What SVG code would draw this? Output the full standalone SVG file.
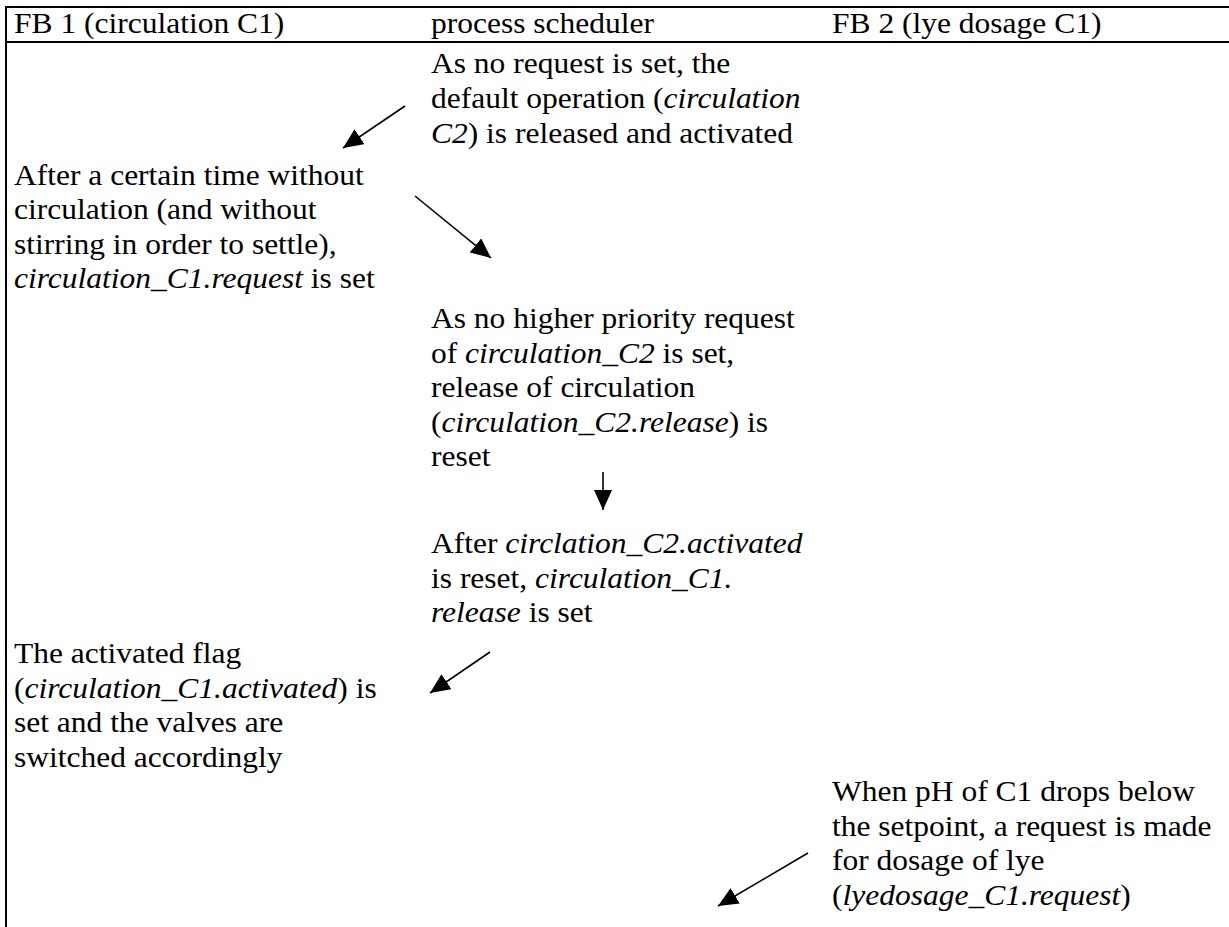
<svg xmlns="http://www.w3.org/2000/svg" width="1229" height="927" viewBox="0 0 1229 927">
  <style>
    text { font-size: 30px; fill: #000; }
    .i { font-style: italic; }
    .rule { stroke: #000; stroke-width: 2; fill: none; }
    .flow { stroke: #000; stroke-width: 1.6; fill: none; marker-end: url(#head); }
  </style>
  <defs>
    <marker id="head" viewBox="0 0 20 18" refX="20" refY="9" markerWidth="20" markerHeight="18" markerUnits="userSpaceOnUse" orient="auto">
      <path d="M0,0 L20,9 L0,18 z" fill="#000"/>
    </marker>
  </defs>
  <rect width="1229" height="927" fill="#fff"/>

  <!-- table frame -->
  <g id="table">
    <line class="rule" x1="5" y1="7" x2="1229" y2="7"/>
    <line class="rule" x1="5" y1="42" x2="1229" y2="42"/>
    <line class="rule" x1="6" y1="6" x2="6" y2="927"/>
  </g>

  <g font-family="'Liberation Serif', 'DejaVu Serif', serif">
    <!-- column 1: FB 1 -->
    <g transform="translate(14,0) scale(1.05,1)">
      <g id="header-fb1">
        <text x="0" y="33">FB 1 (circulation C1)</text>
      </g>
      <g id="fb1-request">
        <text x="0" y="185">After a certain time without</text>
        <text x="0" y="219.5">circulation (and without</text>
        <text x="0" y="254">stirring in order to settle),</text>
        <text x="0" y="288.5"><tspan class="i">circulation_C1.request</tspan> is set</text>
      </g>
      <g id="fb1-activated">
        <text x="0" y="663">The activated flag</text>
        <text x="0" y="698">(<tspan class="i">circulation_C1.activated</tspan>) is</text>
        <text x="0" y="732.5">set and the valves are</text>
        <text x="0" y="767">switched accordingly</text>
      </g>
    </g>

    <!-- column 2: process scheduler -->
    <g transform="translate(431,0) scale(1.05,1)">
      <g id="header-scheduler">
        <text x="0" y="33">process scheduler</text>
      </g>
      <g id="sched-default">
        <text x="0" y="73">As no request is set, the</text>
        <text x="0" y="108">default operation (<tspan class="i">circulation</tspan></text>
        <text x="0" y="143"><tspan class="i">C2</tspan>) is released and activated</text>
      </g>
      <g id="sched-reset">
        <text x="0" y="328">As no higher priority request</text>
        <text x="0" y="363">of <tspan class="i">circulation_C2</tspan> is set,</text>
        <text x="0" y="397.5">release of circulation</text>
        <text x="0" y="432">(<tspan class="i">circulation_C2.release</tspan>) is</text>
        <text x="0" y="466.5">reset</text>
      </g>
      <g id="sched-release">
        <text x="0" y="553">After <tspan class="i">circlation_C2.activated</tspan></text>
        <text x="0" y="588">is reset, <tspan class="i">circulation_C1.</tspan></text>
        <text x="0" y="622"><tspan class="i">release</tspan> is set</text>
      </g>
    </g>

    <!-- column 3: FB 2 -->
    <g transform="translate(832,0) scale(1.05,1)">
      <g id="header-fb2">
        <text x="0" y="33">FB 2 (lye dosage C1)</text>
      </g>
      <g id="fb2-request">
        <text x="0" y="801">When pH of C1 drops below</text>
        <text x="0" y="836">the setpoint, a request is made</text>
        <text x="0" y="870.5">for dosage of lye</text>
        <text x="0" y="905">(<tspan class="i">lyedosage_C1.request</tspan>)</text>
      </g>
    </g>
  </g>

  <!-- connectors -->
  <g id="connectors">
    <line class="flow" x1="405" y1="106" x2="343" y2="148"/>
    <line class="flow" x1="415" y1="196" x2="491" y2="258"/>
    <line class="flow" x1="603" y1="472" x2="603" y2="510"/>
    <line class="flow" x1="490" y1="652" x2="430" y2="693"/>
    <line class="flow" x1="808" y1="853" x2="718" y2="906"/>
  </g>
</svg>
